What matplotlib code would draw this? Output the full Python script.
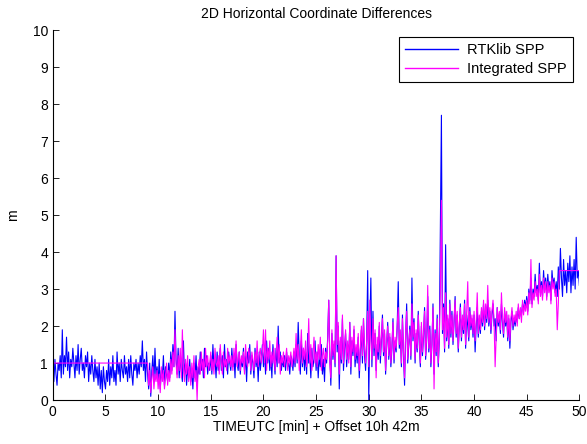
import numpy as np
import matplotlib
matplotlib.use("Agg")
import matplotlib.pyplot as plt


# =========================================================
# DATA (0.1 min steps)
# =========================================================
TITLE = "2D Horizontal Coordinate Differences"
X_LABEL = "TIMEUTC [min] + Offset 10h 42m"
Y_LABEL = "m"
SERIES_NAMES = ["RTKlib SPP", "Integrated SPP"]

# RTKlib SPP, t = 0.0 ... 50.0 min, one row per minute
rtk_spp = [
    0.9, 0.5, 1.1, 0.7, 0.4, 1.0, 0.8, 1.2, 0.6, 1.9,
    0.7, 1.2, 0.9, 1.7, 0.8, 1.3, 0.6, 1.1, 0.9, 1.4,
    1.0, 0.6, 1.2, 0.8, 1.5, 0.7, 1.1, 1.4, 0.8, 1.0,
    0.6, 1.2, 0.9, 1.3, 0.5, 1.0, 0.7, 1.2, 0.8, 0.5,
    1.1, 0.6, 0.9, 0.4, 1.0, 0.3, 0.8, 0.2, 0.9, 0.5,
    0.3, 0.8, 0.5, 1.1, 0.4, 0.9, 0.6, 1.2, 0.5, 0.8,
    0.4, 1.3, 0.7, 1.0, 0.5, 1.1, 0.8, 0.6, 1.2, 0.7,
    0.9, 0.5, 1.1, 0.6, 1.2, 0.7, 0.4, 1.0, 0.8, 1.1,
    0.6, 1.0, 0.7, 1.2, 0.9, 1.6, 0.8, 1.1, 0.5, 1.3,
    0.7, 0.3, 1.0, 0.1, 0.8, 1.2, 0.5, 1.4, 0.6, 0.9,
    0.5, 1.1, 0.3, 0.8, 0.6, 1.2, 0.4, 0.9, 0.7, 0.5,
    1.0, 0.6, 1.3, 0.8, 1.5, 0.9, 2.4, 1.1, 0.7, 1.4,
    0.6, 1.2, 0.8, 0.5, 1.6, 0.7, 1.0, 0.4, 0.9, 0.6,
    1.1, 0.5, 0.8, 0.3, 1.0, 0.6, 1.2, 0.4, 0.9, 0.7,
    1.3, 0.8, 1.1, 0.6, 1.4, 0.9, 1.2, 0.7, 1.0, 0.8,
    1.2, 0.7, 1.5, 0.9, 1.1, 0.6, 1.3, 0.8, 1.0, 1.4,
    0.8, 1.2, 0.6, 1.5, 0.9, 1.1, 0.7, 1.3, 1.0, 0.8,
    1.4, 0.9, 1.2, 0.6, 1.5, 1.0, 0.8, 1.3, 0.7, 1.1,
    0.9, 1.4, 0.8, 1.2, 0.5, 1.3, 1.0, 1.5, 0.7, 1.2,
    1.0, 0.6, 1.4, 0.9, 1.2, 0.5, 1.3, 0.8, 1.1, 1.5,
    0.9, 1.3, 0.7, 1.6, 1.0, 1.4, 0.8, 1.2, 0.6, 1.5,
    1.1, 0.7, 1.4, 0.9, 2.0, 1.0, 1.3, 0.8, 1.1, 0.9,
    1.2, 0.8, 1.3, 0.9, 1.0, 0.7, 1.2, 1.1, 0.8, 1.3,
    0.9, 1.5, 1.0, 2.1, 1.2, 0.7, 1.6, 0.9, 1.4, 0.8,
    1.3, 0.7, 1.8, 1.0, 1.2, 0.6, 1.4, 0.9, 1.1, 1.6,
    0.8, 1.3, 0.6, 1.2, 0.9, 1.5, 0.7, 1.1, 0.5, 1.4,
    1.0, 1.7, 2.7, 1.2, 0.4, 1.8, 1.1, 1.5, 0.9, 3.9,
    1.3, 2.0, 0.3, 1.6, 1.0, 2.2, 0.8, 1.4, 1.8, 0.9,
    1.5, 1.1, 2.1, 0.7, 1.6, 1.2, 1.9, 0.9, 1.4, 1.0,
    1.7, 0.6, 1.3, 1.9, 1.0, 2.2, 1.2, 0.8, 1.6, 3.5,
    0.0, 2.0, 3.3, 0.9, 2.4, 1.2, 1.8, 0.8, 1.5, 1.1,
    2.0, 1.0, 1.6, 2.3, 1.2, 1.8, 0.7, 1.5, 2.1, 1.1,
    1.7, 0.9, 1.4, 2.2, 1.0, 1.6, 1.3, 2.0, 3.2, 1.4,
    1.8, 0.9, 2.3, 1.2, 0.4, 1.7, 2.6, 1.0, 1.5, 2.0,
    1.1, 3.3, 1.6, 2.2, 1.0, 1.8, 1.3, 2.4, 1.5, 0.9,
    2.0, 1.2, 1.7, 2.5, 1.1, 1.6, 2.8, 1.3, 2.0, 0.9,
    1.5, 2.6, 0.7, 1.9, 1.2, 2.3, 0.9, 1.6, 4.5, 7.7,
    1.8, 2.6, 1.3, 4.2, 1.6, 2.2, 1.4, 2.7, 1.7, 2.4,
    1.5, 2.1, 2.8, 1.7, 2.3, 1.3, 2.0, 2.6, 1.6, 2.2,
    1.8, 2.7, 1.4, 2.3, 2.0, 1.6, 2.5, 1.9, 2.2, 1.7,
    2.3, 1.3, 2.0, 2.5, 1.7, 2.2, 1.8, 2.4, 2.0, 2.6,
    1.9, 2.5, 2.1, 2.7, 2.0, 2.4, 1.8, 2.3, 2.6, 2.0,
    2.2, 1.6, 2.5, 2.0, 2.3, 1.8, 2.6, 2.1, 1.7, 2.4,
    2.0, 2.3, 1.6, 2.2, 1.4, 2.1, 2.4, 1.9, 2.2, 2.0,
    2.3, 2.1, 2.5, 2.2, 2.4, 2.3, 2.6, 2.4, 2.7, 2.5,
    2.8, 2.4, 3.0, 2.7, 3.3, 2.6, 3.0, 2.8, 3.4, 2.9,
    3.1, 2.7, 3.7, 2.9, 3.2, 2.8, 3.5, 3.0, 3.3, 2.8,
    3.4, 3.0, 3.2, 2.7, 3.5, 3.1, 3.3, 2.9, 3.2, 2.8,
    3.6, 3.0, 4.1, 3.3, 2.8, 3.8, 3.1, 3.5, 2.9, 3.7,
    3.2, 3.9, 2.9, 3.6, 3.1, 3.8, 3.0, 4.4, 3.3, 3.5,
    3.1,
]

# Integrated SPP: held value at the start, then t = 9.0 ... 48.2 min, then held to the end
int_hold_start = 1.0
int_hold_end = 3.5
int_first_t = 9.0
int_spp = [
    1.0, 0.4, 0.8, 0.2, 0.6, 0.9, 0.3, 0.7, 0.5, 0.8,
    0.3, 0.7, 0.2, 0.9, 0.5, 0.8, 0.3, 0.6, 1.0, 0.4,
    0.8, 0.5, 1.1, 0.7, 1.3, 0.9, 1.9, 1.0, 0.6, 1.2,
    0.8, 1.4, 0.6, 1.9, 0.9, 0.5, 1.1, 0.7, 1.2, 0.5,
    0.9, 0.4, 1.0, 0.6, 1.2, 0.5, 0.8, 0.0, 0.9, 1.1,
    0.7, 1.3, 0.8, 1.1, 0.6, 1.4, 0.9, 1.2, 0.8, 1.0,
    1.3, 0.8, 1.1, 0.7, 1.4, 1.0, 0.9, 1.2, 0.7, 1.5,
    1.0, 0.7, 1.3, 0.9, 1.1, 0.8, 1.4, 1.0, 1.2, 0.9,
    1.2, 0.8, 1.4, 1.0, 1.6, 0.9, 1.1, 1.3, 0.8, 1.2,
    1.0, 1.3, 0.7, 1.5, 1.1, 0.9, 1.4, 1.2, 0.8, 1.3,
    1.1, 0.8, 1.3, 1.0, 1.6, 0.9, 1.2, 1.4, 1.0, 1.3,
    1.9, 1.0, 1.9, 0.8, 1.4, 1.1, 1.6, 0.9, 1.3, 1.0,
    1.4, 0.8, 1.2, 1.7, 1.0, 1.5, 0.7, 1.2, 1.0, 1.3,
    0.9, 1.1, 1.4, 0.8, 1.2, 1.0, 1.3, 0.9, 1.1, 1.4,
    1.0, 1.8, 1.1, 1.5, 0.8, 1.3, 1.9, 1.0, 1.4, 1.1,
    1.6, 0.9, 1.3, 2.2, 1.0, 1.5, 0.8, 1.2, 1.7, 1.0,
    1.3, 0.9, 1.5, 1.1, 1.7, 0.8, 1.2, 1.4, 0.9, 1.3,
    1.1, 1.6, 2.7, 1.0, 0.6, 1.9, 1.2, 1.6, 1.0, 3.9,
    1.5, 2.1, 0.7, 1.7, 1.1, 2.3, 1.0, 1.5, 1.9, 1.1,
    1.6, 1.0, 2.1, 0.9, 1.7, 1.3, 2.0, 1.1, 1.5, 1.2,
    1.8, 0.8, 1.4, 2.0, 1.2, 2.2, 1.4, 1.0, 1.6, 2.4,
    0.9, 2.7, 1.6, 1.1, 2.2, 1.4, 1.9, 0.6, 1.7, 1.3,
    2.1, 1.2, 1.7, 2.2, 1.3, 1.9, 0.8, 1.6, 2.0, 1.2,
    1.8, 1.0, 1.5, 2.1, 1.1, 1.7, 1.4, 2.0, 2.5, 1.5,
    1.9, 1.0, 2.2, 1.3, 0.6, 1.8, 2.4, 1.1, 1.6, 1.9,
    1.2, 2.6, 1.7, 2.1, 1.1, 1.9, 1.4, 2.3, 1.6, 1.0,
    2.1, 1.3, 1.8, 2.4, 1.2, 1.7, 3.1, 1.4, 1.9, 1.0,
    1.6, 2.5, 0.3, 1.8, 1.3, 2.2, 1.0, 1.7, 2.9, 5.4,
    1.9, 2.5, 1.4, 2.9, 1.7, 2.3, 1.5, 2.6, 1.8, 2.3,
    1.6, 2.2, 2.7, 1.8, 2.4, 1.4, 2.1, 2.5, 1.7, 2.3,
    1.9, 2.6, 1.5, 2.4, 3.2, 1.7, 2.4, 2.0, 2.3, 1.8,
    2.4, 1.6, 2.1, 2.9, 1.8, 2.3, 1.9, 2.5, 2.1, 2.7,
    2.0, 2.6, 2.2, 3.1, 2.1, 2.5, 1.9, 2.4, 2.7, 2.1,
    0.9, 1.7, 2.5, 2.1, 2.4, 1.9, 2.9, 2.2, 1.8, 2.5,
    2.1, 2.4, 1.7, 2.3, 1.6, 2.2, 2.5, 2.0, 2.3, 2.1,
    2.4, 2.0, 2.6, 2.2, 2.5, 2.1, 2.7, 2.3, 2.6, 2.4,
    2.7, 2.3, 2.9, 2.6, 3.8, 2.5, 2.9, 2.7, 3.2, 2.8,
    3.0, 2.6, 3.4, 2.8, 3.1, 2.7, 3.3, 2.9, 3.2, 2.7,
    3.2, 2.9, 3.1, 2.6, 3.3, 3.0, 3.2, 2.8, 3.0, 1.9,
    2.6, 3.5, 3.5,
]

X_TICKS = [0, 5, 10, 15, 20, 25, 30, 35, 40, 45, 50]
Y_TICKS = [0, 1, 2, 3, 4, 5, 6, 7, 8, 9, 10]

STEP = 0.1


def main():
    plt.rcParams["font.family"] = ["Liberation Sans", "DejaVu Sans"]

    t_rtk = np.arange(len(rtk_spp)) * STEP
    t_int = int_first_t + np.arange(len(int_spp)) * STEP
    t_int = np.concatenate([[0.0], t_int, [t_rtk[-1]]])
    y_int = np.concatenate([[int_hold_start], int_spp, [int_hold_end]])

    fig = plt.figure(figsize=(5.87, 4.44), dpi=100)
    ax = fig.add_axes([0.09, 0.099, 0.897, 0.833])

    ax.plot(t_rtk, rtk_spp, color="#0000ff", lw=0.8, label=SERIES_NAMES[0])
    ax.plot(t_int, y_int, color="#ff00ff", lw=0.8, label=SERIES_NAMES[1])

    ax.set_xlim(0, 50)
    ax.set_ylim(0, 10)
    ax.set_xticks(X_TICKS)
    ax.set_yticks(Y_TICKS)
    ax.tick_params(direction="in", length=4, labelsize=10, width=0.6)
    ax.spines["top"].set_visible(False)
    ax.spines["right"].set_visible(False)
    for s in ["left", "bottom"]:
        ax.spines[s].set_linewidth(0.8)

    ax.set_title(TITLE, fontsize=10, pad=9)
    ax.set_xlabel(X_LABEL, fontsize=10, labelpad=1)
    ax.set_ylabel(Y_LABEL, fontsize=10, labelpad=9)

    leg = ax.legend(loc="upper right", fontsize=10.5, handlelength=3.6,
                    fancybox=False, framealpha=1, edgecolor="black",
                    borderaxespad=0.45, borderpad=0.45, labelspacing=0.3,
                    handletextpad=0.6)
    leg.get_frame().set_linewidth(0.8)
    for line in leg.get_lines():
        line.set_linewidth(1.0)

    fig.savefig("out.png", dpi=100)
    plt.close(fig)


if __name__ == "__main__":
    main()
